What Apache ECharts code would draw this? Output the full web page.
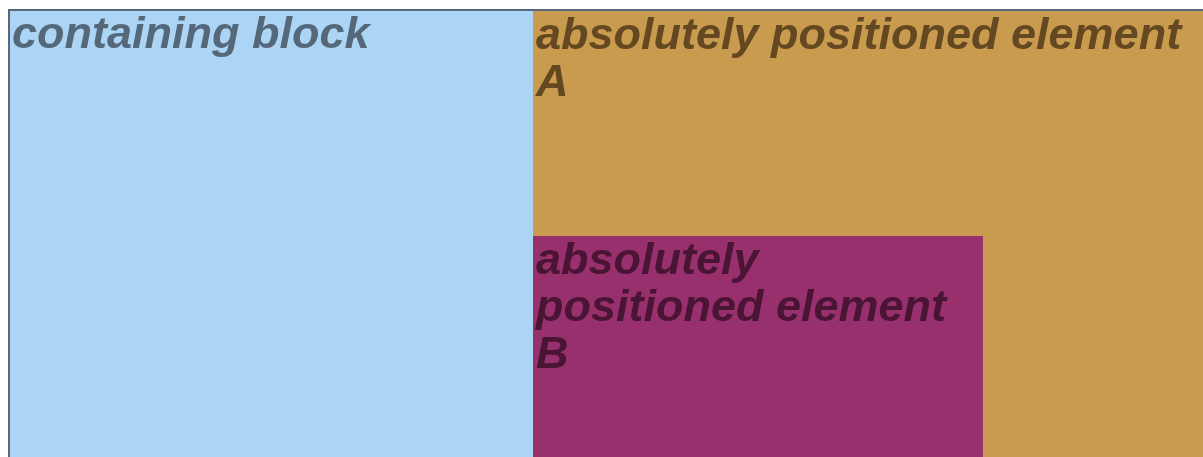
<!DOCTYPE html>
<html>
<head>
<meta charset="utf-8">
<script src="https://cdn.jsdelivr.net/npm/echarts@6/dist/echarts.min.js"></script>
<style>
html,body{margin:0;padding:0;background:#fff;}
#chart{width:1203px;height:457px;}
</style>
</head>
<body>
<div id="chart"></div>
<script>
// Diagram data (diagram units = CSS px of the original figure)
const boxLabels = ['containing block', 'absolutely positioned element\nA', 'absolutely\npositioned element\nB'];
const boxLeft   = [8, 533, 533];
const boxTop    = [9, 11, 236];
const boxRight  = [1215, 1215, 983];
const boxBottom = [475, 475, 475];

const fills = ['#acd4f4', '#c99b4e', '#97306d'];
const textColors = ['#54687a', '#634822', '#4a1434'];
const strokes = ['#56687a', null, null];

const chart = echarts.init(document.getElementById('chart'));
const data = boxLabels.map((l, i) => [boxLeft[i], boxTop[i], boxRight[i], boxBottom[i], i]);

chart.setOption({
  animation: false,
  grid: {left: 0, right: 0, top: 0, bottom: 0},
  xAxis: {type: 'value', min: 0, max: 1203, show: false},
  yAxis: {type: 'value', min: 0, max: 457, inverse: true, show: false},
  series: [{
    type: 'custom',
    clip: true,
    data: data,
    renderItem: function (params, api) {
      const i = api.value(4);
      const p0 = api.coord([api.value(0), api.value(1)]);
      const p1 = api.coord([api.value(2), api.value(3)]);
      const sw = strokes[i] ? 2 : 0;
      return {
        type: 'group',
        children: [{
          type: 'rect',
          shape: {x: p0[0] + sw / 2, y: p0[1] + sw / 2, width: p1[0] - p0[0], height: p1[1] - p0[1]},
          style: {fill: fills[i], stroke: strokes[i] || null, lineWidth: sw}
        }, {
          type: 'text',
          style: {
            text: boxLabels[i],
            x: p0[0] + (i === 0 ? 4 : 3),
            y: p0[1] + (i === 0 ? 3 : 2),
            fill: textColors[i],
            fontFamily: 'Liberation Sans',
            fontWeight: 'bold',
            fontStyle: 'italic',
            fontSize: 45,
            lineHeight: 47,
            align: 'left',
            verticalAlign: 'top'
          }
        }]
      };
    }
  }]
});
</script>
</body>
</html>
